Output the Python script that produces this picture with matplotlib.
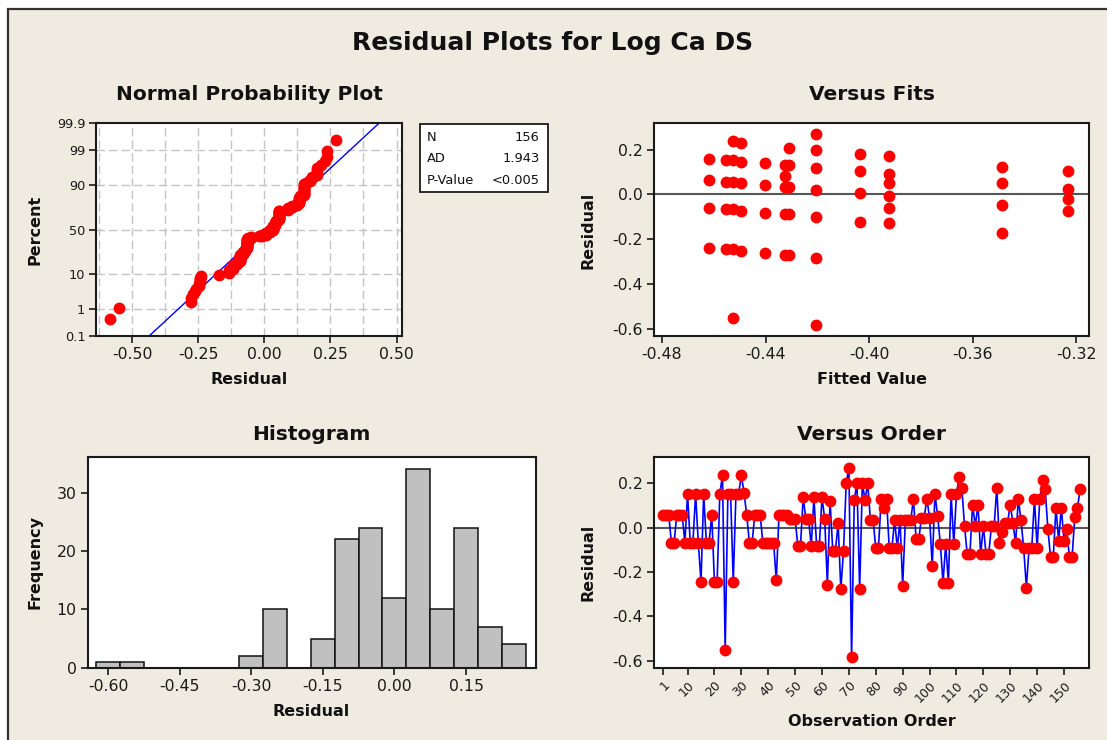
import numpy as np
import matplotlib
matplotlib.use('Agg')
import matplotlib.pyplot as plt
from matplotlib.patches import Rectangle
from statistics import NormalDist

plt.rcParams['font.family'] = ['DejaVu Sans']
plt.rcParams['axes.unicode_minus'] = False

# ---------------- data ----------------
residuals = [
    0.057, 0.057, 0.057, -0.067, -0.067, 0.057, 0.057, 0.057, -0.067, 0.152,
    -0.067, -0.067, 0.152, -0.067, -0.244, 0.152, -0.067, -0.067, 0.057, -0.244,
    -0.244, 0.152, 0.236, -0.551, 0.152, 0.152, -0.244, 0.152, 0.152, 0.236,
    0.158, 0.057, -0.067, -0.067, 0.057, 0.057, 0.057, -0.067, -0.067, -0.067,
    -0.067, -0.067, -0.238, 0.057, 0.057, 0.057, 0.057, 0.040, 0.040, 0.040,
    -0.082, -0.082, 0.136, 0.040, 0.040, -0.082, 0.136, -0.082, -0.082, 0.136,
    0.040, -0.257, 0.120, -0.103, -0.103, 0.020, -0.278, -0.103, 0.200, 0.270,
    -0.585, 0.124, 0.200, -0.278, 0.200, 0.124, 0.200, 0.033, 0.033, -0.092,
    -0.092, 0.130, 0.090, 0.130, -0.092, -0.092, 0.033, -0.092, 0.033, -0.263,
    0.033, 0.033, 0.033, 0.130, -0.050, -0.050, 0.045, 0.045, 0.130, 0.045,
    -0.172, 0.152, 0.052, -0.073, -0.248, -0.073, -0.248, 0.152, -0.073, 0.152,
    0.228, 0.180, 0.007, -0.120, -0.120, 0.104, 0.007, 0.104, -0.120, 0.007,
    -0.120, -0.120, 0.007, 0.007, 0.180, -0.070, -0.021, 0.022, 0.022, 0.104,
    0.022, -0.070, 0.130, 0.033, -0.092, -0.270, -0.092, -0.092, 0.130, -0.092,
    0.130, 0.215, 0.173, -0.007, -0.133, -0.133, 0.090, -0.060, 0.090, -0.060,
    -0.007, -0.133, -0.133, 0.048, 0.090, 0.173,
]

hist_centers = [-0.60, -0.55, -0.50, -0.45, -0.40, -0.35, -0.30, -0.25, -0.20,
                -0.15, -0.10, -0.05, 0.00, 0.05, 0.10, 0.15, 0.20, 0.25]
hist_counts = [1, 1, 0, 0, 0, 0, 2, 10, 0, 5, 22, 24, 12, 34, 10, 24, 7, 4]

fit_values = [
    -0.4617, -0.4617, -0.4617, -0.4617,
    -0.4554, -0.4554, -0.4554, -0.4554,
    -0.4527, -0.4527, -0.4527, -0.4527, -0.4527, -0.4527,
    -0.4493, -0.4493, -0.4493, -0.4493, -0.4493,
    -0.4403, -0.4403, -0.4403, -0.4403,
    -0.4325, -0.4325, -0.4325, -0.4325, -0.4325,
    -0.4311, -0.4311, -0.4311, -0.4311, -0.4311,
    -0.4206, -0.4206, -0.4206, -0.4206, -0.4206, -0.4206, -0.4206,
    -0.4035, -0.4035, -0.4035, -0.4035,
    -0.3922, -0.3922, -0.3922, -0.3922, -0.3922, -0.3922,
    -0.3488, -0.3488, -0.3488, -0.3488,
    -0.3232, -0.3232, -0.3232, -0.3232,
]
fit_residuals = [
    0.158, 0.064, -0.060, -0.239,
    0.152, 0.057, -0.067, -0.246,
    0.236, 0.152, 0.057, -0.067, -0.246, -0.551,
    0.228, 0.145, 0.049, -0.075, -0.255,
    0.139, 0.040, -0.082, -0.261,
    0.131, 0.082, 0.034, -0.090, -0.269,
    0.206, 0.131, 0.034, -0.090, -0.269,
    0.270, 0.200, 0.116, 0.021, -0.103, -0.282, -0.585,
    0.181, 0.104, 0.007, -0.124,
    0.173, 0.091, 0.049, -0.007, -0.061, -0.130,
    0.124, 0.049, -0.048, -0.172,
    0.104, 0.022, -0.021, -0.075,
]

prob_ticks = [0.1, 1, 10, 50, 90, 99, 99.9]
prob_grid = [1, 10, 50, 90, 99]
prob_xticks = [-0.50, -0.25, 0.00, 0.25, 0.50]
fits_xticks = [-0.48, -0.44, -0.40, -0.36, -0.32]
resid_yticks = [-0.6, -0.4, -0.2, 0.0, 0.2]
hist_xticks = [-0.60, -0.45, -0.30, -0.15, 0.00, 0.15]
hist_yticks = [0, 10, 20, 30]
order_ticks = [1, 10, 20, 30, 40, 50, 60, 70, 80, 90, 100, 110, 120, 130, 140, 150]
stats_labels = ['N', 'AD', 'P-Value']
stats_values = ['156', '1.943', '<0.005']

# ---------------- figure ----------------
W, H = 1107, 740
fig = plt.figure(figsize=(W / 100, H / 100), dpi=100)
fig.patch.set_facecolor('white')
bg = Rectangle((8 / W, -0.05), 1.1, (H - 9) / H + 0.05, transform=fig.transFigure,
               facecolor='#EFEBE0', edgecolor='#333333', lw=1.6, zorder=-10)
fig.patches.append(bg)

TICK = 11.3


def px_axes(l, t, r, b, tsize=TICK):
    ax = fig.add_axes([l / W, 1 - b / H, (r - l) / W, (b - t) / H])
    ax.set_facecolor('white')
    for s in ax.spines.values():
        s.set_linewidth(1.5)
        s.set_color('#1a1a1a')
    ax.tick_params(direction='out', length=5, width=1.2, labelsize=tsize,
                   colors='#1a1a1a', top=False, right=False, pad=3)
    return ax


def ftext(x, y, s, **kw):
    fig.text(x / W, 1 - y / H, s, **kw)


title_kw = dict(fontweight='bold', fontsize=14.5, ha='center', va='center', color='#111111')
label_kw = dict(fontweight='bold', fontsize=11.5, ha='center', va='center', color='#111111')

ftext(553, 43, 'Residual Plots for Log Ca DS', fontweight='bold',
      fontsize=18, ha='center', va='center', color='#111111')

nd = NormalDist()

# ---- Normal probability plot ----
ax1 = px_axes(96.4, 123.3, 401.8, 335.7, tsize=9.3)
ax1.tick_params(axis='x', labelsize=11.3)
r_sorted = np.sort(np.array(residuals))
n = len(r_sorted)
pp = (np.arange(1, n + 1) - 0.3) / (n + 0.4)
zs = np.array([nd.inv_cdf(p) for p in pp])
mu, sd = float(np.mean(residuals)), float(np.std(residuals, ddof=1))
zlo, zhi = nd.inv_cdf(0.001), nd.inv_cdf(0.999)
for gx in np.arange(-0.625, 0.51, 0.125):
    ax1.axvline(gx, color='#c4c4c4', lw=1.0, ls=(0, (6, 3)), zorder=0)
for gp in prob_grid:
    ax1.axhline(nd.inv_cdf(gp / 100), color='#c4c4c4', lw=1.0, ls=(0, (6, 3)), zorder=0)
ax1.plot([mu + sd * zlo, mu + sd * zhi], [zlo, zhi], color='#0000ff', lw=1.0, zorder=2)
ax1.plot(r_sorted, zs, 'o', color='#ff0000', ms=7.5, mec='#ff0000', zorder=3, clip_on=False)
ax1.set_xlim(-0.635, 0.52)
ax1.set_ylim(zlo, zhi)
ax1.set_yticks([nd.inv_cdf(p / 100) for p in prob_ticks])
ax1.set_yticklabels([('%g' % p) for p in prob_ticks])
ax1.set_xticks(prob_xticks)
ax1.set_xticklabels(['%.2f' % v for v in prob_xticks])
ftext(249, 94, 'Normal Probability Plot', **title_kw)
ftext(249, 379, 'Residual', **label_kw)
ftext(35, 230, 'Percent', rotation=90, **label_kw)

# stats box
box = Rectangle((420 / W, 1 - 191.5 / H), (547.7 - 420) / W, (191.5 - 124) / H,
                transform=fig.transFigure, facecolor='white', edgecolor='#1a1a1a', lw=1.3, zorder=5)
fig.patches.append(box)
for i, (lab, val) in enumerate(zip(stats_labels, stats_values)):
    yy = 137.5 + i * 21.3
    ftext(427, yy, lab, fontsize=9.4, ha='left', va='center', color='#111111', zorder=6)
    ftext(539.5, yy, val, fontsize=9.4, ha='right', va='center', color='#111111', zorder=6)

# ---- Versus fits ----
ax2 = px_axes(654.2, 123.3, 1089.3, 335.7)
ax2.axhline(0, color='#555555', lw=1.5, zorder=1)
ax2.plot(fit_values, fit_residuals, 'o', color='#ff0000', ms=7.5, mec='#ff0000', zorder=3)
ax2.set_xlim(-0.483, -0.315)
ax2.set_ylim(-0.631, 0.317)
ax2.set_xticks(fits_xticks)
ax2.set_xticklabels(['%.2f' % v for v in fits_xticks])
ax2.set_yticks(resid_yticks)
ax2.set_yticklabels(['%.1f' % v for v in resid_yticks])
ftext(871.7, 94, 'Versus Fits', **title_kw)
ftext(871.7, 379, 'Fitted Value', **label_kw)
ftext(588, 230, 'Residual', rotation=90, **label_kw)

# ---- Histogram ----
ax3 = px_axes(87.5, 457.3, 535.7, 667.7)
ax3.bar(hist_centers, hist_counts, width=0.05, color='#c0c0c0', edgecolor='#111111', lw=1.1, zorder=2)
ax3.set_xlim(-0.643, 0.296)
ax3.set_ylim(0, 36.07)
ax3.set_xticks(hist_xticks)
ax3.set_xticklabels(['%.2f' % v for v in hist_xticks])
ax3.set_yticks(hist_yticks)
ftext(311.6, 434, 'Histogram', **title_kw)
ftext(311.6, 712, 'Residual', **label_kw)
ftext(35, 562, 'Frequency', rotation=90, **label_kw)

# ---- Versus order ----
ax4 = px_axes(654.2, 457.3, 1089.3, 667.7)
obs = np.arange(1, len(residuals) + 1)
ax4.axhline(0, color='#555555', lw=1.5, zorder=1)
ax4.plot(obs, residuals, '-', color='#0000ff', lw=1.2, zorder=2)
ax4.plot(obs, residuals, 'o', color='#ff0000', ms=7.5, mec='#ff0000', zorder=3)
ax4.set_xlim(-2.4, 159.4)
ax4.set_ylim(-0.631, 0.317)
ax4.set_yticks(resid_yticks)
ax4.set_yticklabels(['%.1f' % v for v in resid_yticks])
ax4.set_xticks(order_ticks)
ax4.set_xticklabels([str(v) for v in order_ticks], rotation=45, ha='right', va='top',
                    rotation_mode='anchor', fontsize=9)
ftext(871.7, 434, 'Versus Order', **title_kw)
ftext(871.7, 722, 'Observation Order', **label_kw)
ftext(588, 562, 'Residual', rotation=90, **label_kw)

fig.savefig('out.png', dpi=100, facecolor=fig.get_facecolor())
